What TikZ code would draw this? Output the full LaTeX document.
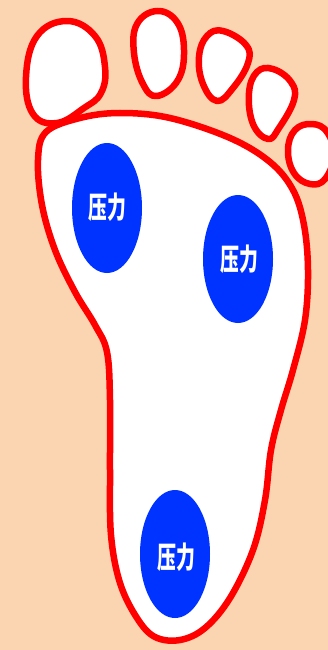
\documentclass[tikz,border=0pt]{standalone}
\usepackage{fontspec}
\newfontfamily\cjk{Noto Sans CJK SC}
\definecolor{skin}{RGB}{251,213,177}
\definecolor{rim}{RGB}{255,0,0}
\definecolor{spot}{RGB}{0,51,255}
\tikzset{
  outline/.style={draw=rim, fill=white, line width=6.5pt, line join=round},
  pad/.style={fill=spot, draw=none},
  padtext/.style={text=white, font=\cjk\bfseries\fontsize{30}{30}\selectfont, xscale=0.63, inner sep=0pt}
}
\begin{document}
\begin{tikzpicture}[x=1pt,y=-1pt]
  % page background
  \fill[skin] (0,0) rectangle (328,650);
  \useasboundingbox (0,0) rectangle (328,650);

  % toes
  \draw[outline] plot[smooth cycle, tension=0.7] coordinates
    {(67,21) (95,36) (105,67) (101,93) (84,108) (57,123) (33,114) (26,77) (37,36)};
  \draw[outline] plot[smooth cycle, tension=0.7] coordinates
    {(157,11) (177,22) (184,50) (178,80) (157,96) (143,84) (134,53) (137,24)};
  \draw[outline] plot[smooth cycle, tension=0.7] coordinates
    {(223,31) (246,45) (248,63) (233,88) (217,101) (203,84) (199,57) (207,36)};
  \draw[outline] plot[smooth cycle, tension=0.7] coordinates
    {(273,69) (291,82) (294,100) (279,128) (268,139) (253,124) (249,93) (257,72)};
  \draw[outline] plot[smooth cycle, tension=0.7] coordinates
    {(312,124) (327,132) (334,155) (325,179) (310,184) (294,173) (288,150) (295,130)};

  % sole
  \draw[outline] plot[smooth cycle, tension=0.6] coordinates
    {(38,160) (46,132) (80,118) (120,113) (170,118) (230,138) (270,162) (293,190)
     (304,225) (308,270) (305,320) (293,370) (281,410) (271,450) (265,500)
     (253,550) (230,598) (205,628) (180,640) (155,637) (137,618) (120,583)
     (111,535) (110,470) (110,400) (107,352) (95,325) (75,292) (55,250) (42,205)};

  % pressure spots
  \fill[pad] (107,208) ellipse [x radius=35, y radius=65];
  \fill[pad] (238,259) ellipse [x radius=35, y radius=64];
  \fill[pad] (175,554) ellipse [x radius=35, y radius=64];
  \node[padtext] (p1) at (107,207) {压力};
  \node[padtext] (p2) at (239,259) {压力};
  \node[padtext] (p3) at (176,557) {压力};
\end{tikzpicture}
\end{document}
